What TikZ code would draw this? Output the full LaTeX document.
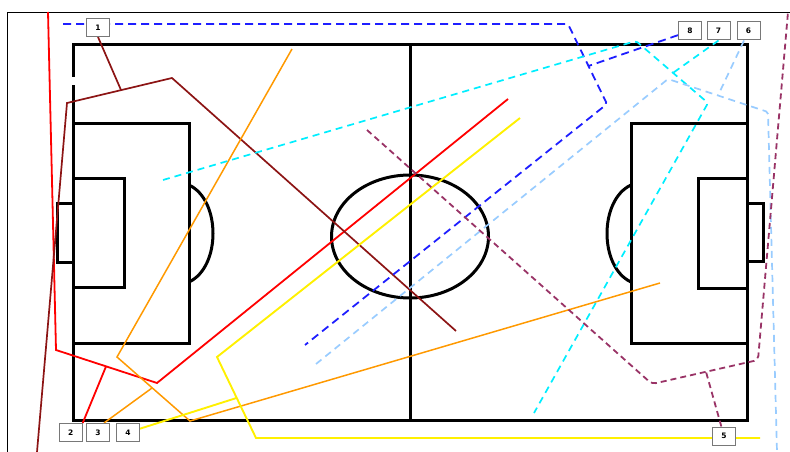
\documentclass[tikz,border=0pt]{standalone}
\usepackage{fontspec}
\newfontfamily\boxfont{DejaVu Sans}
\definecolor{cBlue}{RGB}{30,30,255}
\definecolor{cCyan}{RGB}{0,238,255}
\definecolor{cLight}{RGB}{153,204,255}
\definecolor{cRed}{RGB}{255,0,0}
\definecolor{cMaroon}{RGB}{140,20,20}
\definecolor{cOrange}{RGB}{255,153,0}
\definecolor{cYellow}{RGB}{255,240,0}
\definecolor{cPurple}{RGB}{153,51,102}
\definecolor{cBoxEdge}{RGB}{120,120,120}
\pgfdeclarelayer{lines}
\pgfsetlayers{lines,main}
\begin{document}
\begin{tikzpicture}[x=1pt,y=-1pt,
  pitch/.style={line width=3pt, black, line join=miter},
  frameline/.style={line width=0.9pt, black},
  numbox/.style={draw=cBoxEdge, line width=1pt, fill=white, minimum width=23pt, minimum height=18pt, inner sep=0pt, font=\boxfont\bfseries\fontsize{7.5}{8}\selectfont},
  redline/.style={draw=cRed, line width=1.8pt},
  maroonline/.style={draw=cMaroon, line width=1.7pt},
  orangeline/.style={draw=cOrange, line width=1.5pt},
  yellowline/.style={draw=cYellow, line width=1.9pt},
  blueline/.style={draw=cBlue, line width=1.8pt, dash pattern=on 8pt off 5pt},
  cyanline/.style={draw=cCyan, line width=1.7pt, dash pattern=on 7pt off 5pt},
  lightline/.style={draw=cLight, line width=1.7pt, dash pattern=on 7pt off 5pt},
  purpleline/.style={draw=cPurple, line width=1.8pt, dash pattern=on 6pt off 4pt}
]
\useasboundingbox (0,0) rectangle (790,452);

% number boxes
\node[numbox] (b1) at (98,27.5) {1};
\node[numbox] (b2) at (70.7,432.5) {2};
\node[numbox] (b3) at (98,432.5) {3};
\node[numbox] (b4) at (128,432.5) {4};
\node[numbox] (b5) at (724,436) {5};
\node[numbox] (b6) at (748.5,31) {6};
\node[numbox] (b7) at (718.5,31) {7};
\node[numbox] (b8) at (690,31) {8};

% bend points
\coordinate (r0) at (48,12);  \coordinate (r1) at (56,350);
\coordinate (r2) at (157,383); \coordinate (r3) at (508,99);
\coordinate (rj) at (106,366.5);
\coordinate (m0) at (37,452); \coordinate (m1) at (67,103);
\coordinate (m2) at (172,78); \coordinate (m3) at (456,331);
\coordinate (mj) at (121,90);
\coordinate (o0) at (292,49); \coordinate (o1) at (117,357);
\coordinate (o2) at (190,421); \coordinate (o3) at (660,283);
\coordinate (oj) at (152,388);
\coordinate (y0) at (520,118); \coordinate (y1) at (217,357);
\coordinate (y2) at (256,438); \coordinate (y3) at (760,438);
\coordinate (yj) at (236.5,398);
\coordinate (u0) at (63,24); \coordinate (u1) at (568,24);
\coordinate (u2) at (607,104); \coordinate (u3) at (305,345);
\coordinate (uj) at (588.5,66);
\coordinate (c0) at (163,180); \coordinate (c1) at (636,41);
\coordinate (c2) at (708,103); \coordinate (c3) at (534,413);
\coordinate (cj) at (673,72.9);
\coordinate (l0) at (316,364); \coordinate (l1) at (668,79);
\coordinate (l2) at (768,112); \coordinate (l3) at (777,452);
\coordinate (lj) at (718,95.5);
\coordinate (p0) at (367,130); \coordinate (p1) at (652,384);
\coordinate (p2) at (758,360); \coordinate (p3) at (788,12);
\coordinate (pj) at (706,371.8);

\begin{pgfonlayer}{lines}
% frame
\draw[frameline] (7,452) -- (7,12) -- (790,12);
% pitch
\draw[pitch] (73,45) rectangle (747,420);
\draw[white, line width=3.4pt] (73,77) -- (73,85);
\draw[pitch] (410,45) -- (410,420);
\draw[pitch] (410,236.5) ellipse [x radius=78.5, y radius=61.5];
\draw[pitch] (73,123) rectangle (189,343);
\draw[pitch] (73,178) rectangle (124,287);
\draw[pitch] (57,203) rectangle (73,262);
\draw[pitch] (189,185) .. controls (221,200) and (221,267) .. (189,282);
\draw[pitch] (631,123) rectangle (747,343);
\draw[pitch] (698,178) rectangle (747,288);
\draw[pitch] (747,203) rectangle (763,261);
\draw[pitch] (631,185) .. controls (599,200) and (599,267) .. (631,282);
% player runs
\draw[redline] (r0) -- (r1) -- (r2) -- (r3);
\draw[redline] (b2.north east) -- (rj);
\draw[maroonline] (m0) -- (m1) -- (m2) -- (m3);
\draw[maroonline] (b1.south) -- (mj);
\draw[orangeline] (o0) -- (o1) -- (o2) -- (o3);
\draw[orangeline] (b3.north) ++(6,0) -- (oj);
\draw[yellowline] (y0) -- (y1) -- (y2) -- (y3);
\draw[yellowline] (b4) -- (yj);
\draw[blueline, rounded corners=2pt] (u0) -- (u1) -- (u2) -- (u3);
\draw[blueline] (b8) -- (uj);
\draw[cyanline, rounded corners=2pt] (c0) -- (c1) -- (c2) -- (c3);
\draw[cyanline] (b7.south) -- (cj);
\draw[lightline, rounded corners=2pt] (l0) -- (l1) -- (l2) -- (l3);
\draw[lightline] (b6) -- (lj);
\draw[purpleline, rounded corners=4pt] (p0) -- (p1) -- (p2) -- (p3);
\draw[purpleline] (b5) -- (pj);
\end{pgfonlayer}
\end{tikzpicture}
\end{document}
